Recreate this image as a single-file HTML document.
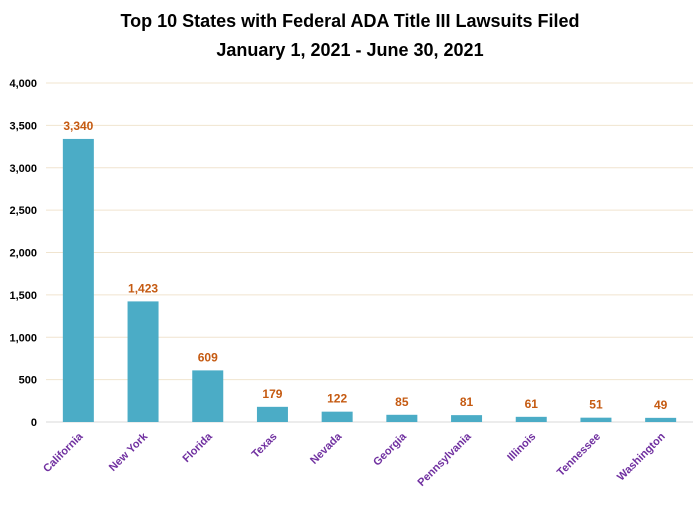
<!DOCTYPE html>
<html><head><meta charset="utf-8"><style>
body{margin:0;background:#fff;}
svg{display:block;font-family:"Liberation Sans",sans-serif;}
</style></head><body>
<svg id="chart" width="700" height="507" viewBox="0 0 700 507">
<text x="350" y="27" text-anchor="middle" font-size="18" font-weight="bold" fill="#000">Top 10 States with Federal ADA Title III Lawsuits Filed</text>
<text x="350" y="56" text-anchor="middle" font-size="18" font-weight="bold" fill="#000">January 1, 2021 - June 30, 2021</text>
<g id="grid"></g><g id="bars"></g><g id="labels"></g>
</svg>
<script>
const categories=["California","New York","Florida","Texas","Nevada","Georgia","Pennsylvania","Illinois","Tennessee","Washington"];
const values=[3340,1423,609,179,122,85,81,61,51,49];
const valueLabels=["3,340","1,423","609","179","122","85","81","61","51","49"];
const tickValues=[0,500,1000,1500,2000,2500,3000,3500,4000];
const tickLabels=["0","500","1,000","1,500","2,000","2,500","3,000","3,500","4,000"];
const NS="http://www.w3.org/2000/svg";
const x0=46,x1=693,y0=422,y1=83,maxV=4000;
const band=(x1-x0)/categories.length;
const yS=v=>y0-(v/maxV)*(y0-y1);
const xC=i=>x0+band*(i+0.5);
function mk(tag,attrs,parent,text){const e=document.createElementNS(NS,tag);for(const k in attrs)e.setAttribute(k,attrs[k]);if(text!==undefined)e.textContent=text;parent.appendChild(e);return e;}
const grid=document.getElementById('grid'),bars=document.getElementById('bars'),labels=document.getElementById('labels');
tickValues.forEach((t,i)=>{
 const y=yS(t);
 const l=mk('line',{x1:x0,x2:x1,y1:y,y2:y,stroke:i===0?'#d9d9d9':'#f0e4cf','stroke-width':1},grid);
 
 
 const tx=mk('text',{x:37,y:y+4,'text-anchor':'end','font-size':11,'font-weight':'bold',fill:'#000'},grid,tickLabels[i]);
 
 
});
const bw=31;
values.forEach((v,i)=>{
 const cx=xC(i),y=yS(v);
 const r=mk('rect',{x:cx-bw/2,y:y,width:bw,height:y0-y,fill:'#4bacc6'},bars);
 
 
 const vl=mk('text',{x:cx,y:y-9,'text-anchor':'middle','font-size':12,'font-weight':'bold',fill:'#c55a11'},labels,valueLabels[i]);
 
 
 const cl=mk('text',{x:cx+5,y:437,'text-anchor':'end','font-size':11,'font-weight':'bold',fill:'#7030a0',transform:`rotate(-45 ${cx+5} 437)`},labels,categories[i]);
 
 
});
</script>
</body></html>
